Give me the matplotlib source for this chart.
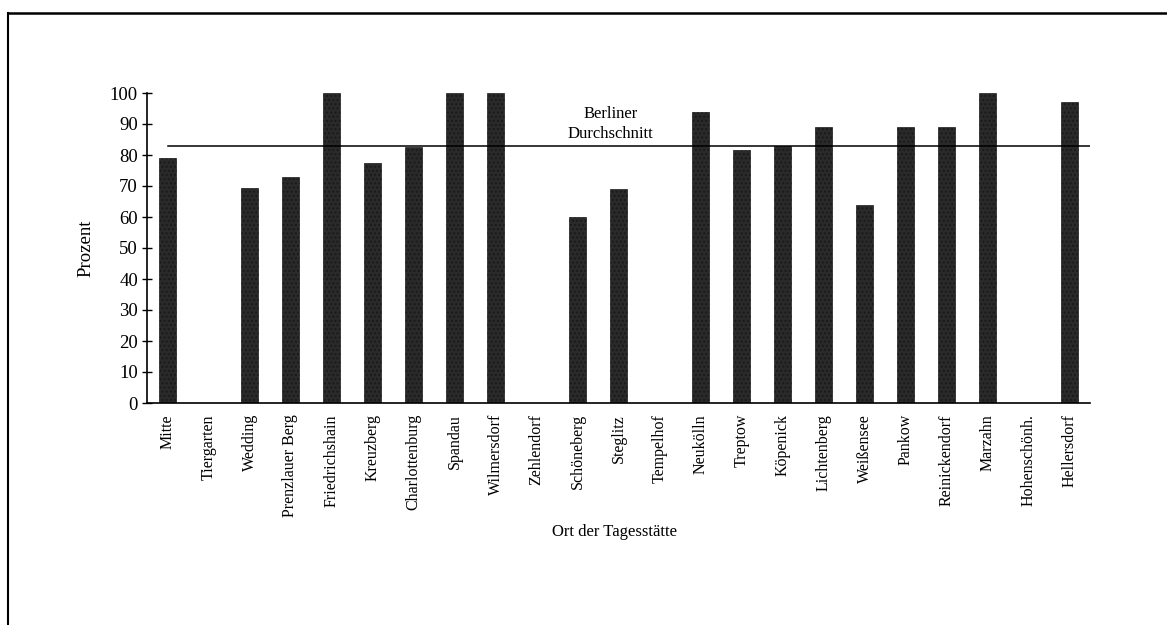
import matplotlib
matplotlib.use("Agg")
import matplotlib.pyplot as plt
from matplotlib.lines import Line2D

districts = ["Mitte", "Tiergarten", "Wedding", "Prenzlauer Berg", "Friedrichshain",
             "Kreuzberg", "Charlottenburg", "Spandau", "Wilmersdorf", "Zehlendorf",
             "Schöneberg", "Steglitz", "Tempelhof", "Neukölln", "Treptow", "Köpenick",
             "Lichtenberg", "Weißensee", "Pankow", "Reinickendorf", "Marzahn",
             "Hohenschönh.", "Hellersdorf"]
percent = [79, 0, 69.5, 73, 100, 77.5, 82.5, 100, 100, 0, 60, 69, 0, 94, 81.5, 83,
           89, 64, 89, 89, 100, 0, 97]
berlin_avg = 83
yticks = list(range(0, 101, 10))

plt.rcParams['font.family'] = ['Liberation Serif', 'DejaVu Serif']
plt.rcParams['hatch.color'] = '#6a6a6a'

fig = plt.figure(figsize=(11.67, 6.25), dpi=100)
ax = fig.add_axes([147/1167, 1-403/625, (1090-147)/1167, (403-93)/625])

x = list(range(len(districts)))
ax.bar(x, percent, width=0.4, color='#2a2a2a', edgecolor='#1a1a1a', linewidth=0.5,
       hatch='....', zorder=2)

ax.plot([0, len(districts) - 0.5], [berlin_avg, berlin_avg], color='black', lw=1.1, zorder=3)
ax.text(10.8, 90, "Berliner\nDurchschnitt", ha='center', va='center', fontsize=12,
        linespacing=1.35)

ax.set_xlim(-0.5, len(districts) - 0.5)
ax.set_ylim(0, 100)
ax.set_yticks(yticks)
ax.set_yticklabels([str(t) for t in yticks], fontsize=13.5)
ax.set_xticks(x)
ax.set_xticklabels(districts, rotation=90, fontsize=11.5)
ax.tick_params(axis='x', length=0, pad=8)
ax.tick_params(axis='y', direction='inout', length=7, width=1, pad=3)
for s in ['top', 'right']:
    ax.spines[s].set_visible(False)
ax.spines['left'].set_linewidth(1.2)
ax.spines['bottom'].set_linewidth(1.2)

fig.text(86/1167, 1-248/625, "Prozent", rotation=90, ha='center', va='center', fontsize=13.5)
fig.text(615/1167, 1-532/625, "Ort der Tagesstätte", ha='center', va='center', fontsize=12)

# scanned page frame
fig.add_artist(Line2D([8/1167, 8/1167], [0, 1-13/625], transform=fig.transFigure,
                      color='black', lw=1.5))
fig.add_artist(Line2D([8/1167, 1], [1-13/625, 1-13/625], transform=fig.transFigure,
                      color='black', lw=1.8))

fig.savefig("out.png", dpi=100)
